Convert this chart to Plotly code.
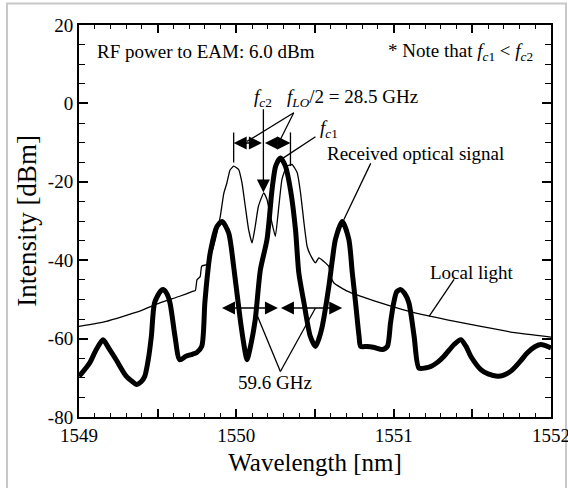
import plotly.graph_objects as go

# ---------------- data ----------------
received_wl = [1549.00, 1549.036, 1549.068, 1549.11, 1549.153, 1549.19, 1549.236, 1549.30,
               1549.34, 1549.365, 1549.395, 1549.418, 1549.44, 1549.46, 1549.48, 1549.518,
               1549.535, 1549.555, 1549.578, 1549.61, 1549.64, 1549.68, 1549.72, 1549.747,
               1549.78, 1549.80, 1549.82, 1549.834, 1549.877, 1549.909, 1549.951, 1549.983,
               1550.025, 1550.05, 1550.068, 1550.09, 1550.12, 1550.153, 1550.195, 1550.227,
               1550.25, 1550.28, 1550.312, 1550.344, 1550.376, 1550.397, 1550.43, 1550.47,
               1550.503, 1550.525, 1550.546, 1550.588, 1550.61, 1550.63, 1550.673, 1550.715,
               1550.737, 1550.758, 1550.78, 1550.79, 1550.83, 1550.87, 1550.93, 1550.96,
               1550.98, 1551.00, 1551.02, 1551.045, 1551.07, 1551.097, 1551.13, 1551.16,
               1551.20, 1551.236, 1551.28, 1551.32, 1551.384, 1551.427, 1551.46, 1551.49,
               1551.554, 1551.60, 1551.66, 1551.70, 1551.745, 1551.80, 1551.85, 1551.90,
               1551.936, 1552.00]
received_dbm = [-69.6, -67.9, -66.2, -62.8, -60.3, -62.5, -65.4, -69.6,
                -71.0, -71.7, -71.0, -69.6, -65.4, -59.4, -50.9, -47.9,
                -47.5, -48.3, -50.8, -59.4, -65.4, -64.5, -64.0, -63.6,
                -62.0, -50.8, -42.4, -38.1, -31.4, -30.1, -33.0, -41.6,
                -55.2, -62.0, -65.4, -62.0, -55.2, -42.4, -34.7, -22.0,
                -16.0, -13.9, -16.0, -22.0, -32.2, -43.2, -50.9, -59.4,
                -62.0, -60.0, -56.9, -46.7, -40.0, -34.7, -30.1, -34.7,
                -43.2, -50.9, -59.4, -62.0, -62.0, -62.2, -62.8, -62.0,
                -56.0, -50.9, -48.0, -47.5, -48.5, -50.9, -59.4, -67.5,
                -67.5, -67.1, -66.0, -64.5, -61.5, -60.3, -62.0, -64.5,
                -67.9, -69.0, -69.6, -69.3, -68.3, -66.0, -63.6, -62.0,
                -61.5, -62.4]

local_wl = [1549.00, 1549.174, 1549.386, 1549.514, 1549.64, 1549.726, 1549.74, 1549.75,
            1549.77, 1549.78, 1549.813, 1549.835, 1549.855, 1549.898, 1549.92, 1549.94,
            1549.96, 1549.983, 1550.015, 1550.036, 1550.057, 1550.078, 1550.10, 1550.12,
            1550.14, 1550.174, 1550.195, 1550.217, 1550.248, 1550.27, 1550.29, 1550.32,
            1550.355, 1550.387, 1550.408, 1550.43, 1550.45, 1550.47, 1550.503, 1550.524,
            1550.556, 1550.588, 1550.60, 1550.62, 1550.705, 1550.917, 1551.13, 1551.34,
            1551.554, 1551.77, 1552.00]
local_dbm = [-56.9, -55.6, -53.0, -50.9, -49.2, -47.9, -47.7, -45.0,
             -44.2, -41.5, -41.1, -39.0, -36.5, -28.8, -23.0, -20.3,
             -17.0, -16.0, -16.9, -20.3, -26.3, -32.2, -35.6, -31.4,
             -26.3, -22.8, -24.5, -28.8, -33.9, -26.3, -19.4, -16.0,
             -15.6, -17.7, -22.8, -30.5, -36.5, -38.6, -40.7, -39.4,
             -40.3, -41.6, -44.1, -45.8, -47.9, -50.9, -53.4, -55.2,
             -56.9, -58.5, -59.6]

x_tickvals = [1549, 1549.5, 1550, 1550.5, 1551, 1551.5, 1552]
x_ticktext = ["1549", "", "1550", "", "1551", "", "1552"]
y_tickvals = [-80, -60, -40, -20, 0, 20]
y_ticktext = ["-80", "-60", "-40", "-20", "0", "20"]

FONT = "Liberation Serif"

fig = go.Figure()
fig.add_trace(go.Scatter(x=local_wl, y=local_dbm, mode="lines",
                         line=dict(color="black", width=1.3, shape="spline", smoothing=0.4),
                         name="Local light", showlegend=False))
fig.add_trace(go.Scatter(x=received_wl, y=received_dbm, mode="lines",
                         line=dict(color="black", width=5, shape="spline", smoothing=0.7),
                         name="Received optical signal", showlegend=False))

ann = []
def label(x, y, text, xanchor="center", size=19):
    ann.append(dict(x=x, y=y, xref="x", yref="y", text=text, showarrow=False,
                    xanchor=xanchor, yanchor="middle",
                    font=dict(family=FONT, size=size, color="black")))

def arrow(x, y, ax, ay, side="end"):
    ann.append(dict(x=x, y=y, ax=ax, ay=ay, xref="x", yref="y", axref="x", ayref="y",
                    text="", showarrow=True, arrowhead=2, arrowside=side,
                    arrowsize=2.0, arrowwidth=1.3, arrowcolor="black",
                    standoff=0, startstandoff=0))

label(1549.102, 13.2, "RF power to EAM: 6.0 dBm", xanchor="left")
label(1551.9, 13.2, "* Note that <i>f</i><sub><i>c</i>1</sub> &lt; <i>f</i><sub><i>c</i>2</sub>",
      xanchor="right")
label(1550.172, 1.5, "<i>f</i><sub><i>c</i>2</sub>")
label(1550.31, 1.5, "<i>f</i><sub><i>LO</i></sub>/2 = 28.5 GHz", xanchor="left")
label(1550.52, -6.6, "<i>f</i><sub><i>c</i>1</sub>", xanchor="left")
label(1551.14, -12.8, "Received optical signal")
label(1551.5, -43.2, "Local light")
label(1550.245, -71.2, "59.6 GHz")

# top arrows (28.5 GHz spacing)
arrow(1549.983, -10.1, 1550.172, -10.1, side="end+start")
arrow(1550.344, -10.1, 1550.172, -10.1, side="end+start")
arrow(1550.172, -22.75, 1550.172, -1.1)
# bottom arrows (59.6 GHz spacing)
arrow(1549.909, -52.2, 1550.274, -52.2, side="end+start")
arrow(1550.673, -52.2, 1550.274, -52.2, side="end+start")

shapes = []
def seg(x0, y0, x1, y1):
    shapes.append(dict(type="line", xref="x", yref="y", x0=x0, y0=y0, x1=x1, y1=y1,
                       line=dict(color="black", width=1.3)))

seg(1549.983, -7.4, 1549.983, -15.1)
seg(1550.344, -7.4, 1550.344, -16.0)
seg(1550.365, -2.4, 1550.068, -9.7)
seg(1550.365, -2.4, 1550.28, -9.2)
seg(1550.503, -8.5, 1550.28, -14.4)
seg(1550.854, -15.3, 1550.683, -29.7)
seg(1551.384, -44.9, 1551.225, -54.3)
seg(1550.28, -68.4, 1550.115, -52.4)
seg(1550.28, -68.4, 1550.503, -52.2)

# light gray outer frame
shapes.append(dict(type="rect", xref="paper", yref="paper", x0=-0.1525, x1=1.0318,
                   y0=-0.25, y1=1.0546, line=dict(color="#c8c8c8", width=2), layer="below"))

fig.update_layout(
    width=568, height=488,
    margin=dict(l=79, r=17, t=25, b=71, autoexpand=False),
    paper_bgcolor="white", plot_bgcolor="white",
    font=dict(family=FONT, size=19, color="black"),
    annotations=ann, shapes=shapes,
    showlegend=False,
)
fig.update_xaxes(range=[1549, 1552], tickvals=x_tickvals, ticktext=x_ticktext,
                 ticklabeloverflow="allow", automargin=False,
                 ticks="inside", ticklen=8, tickwidth=1.5, tickcolor="black",
                 minor=dict(dtick=0.1, ticks="inside", ticklen=4, tickwidth=1.2, tickcolor="black"),
                 showline=True, linewidth=2, linecolor="black", mirror="allticks",
                 showgrid=False, zeroline=False,
                 tickfont=dict(family=FONT, size=19, color="black"),
                 title=dict(text="Wavelength [nm]", font=dict(family=FONT, size=25, color="black"),
                            standoff=9))
fig.update_yaxes(range=[-80, 20], tickvals=y_tickvals, ticktext=y_ticktext,
                 automargin=False,
                 ticks="inside", ticklen=9, tickwidth=1.5, tickcolor="black",
                 minor=dict(dtick=5, ticks="inside", ticklen=6, tickwidth=1.2, tickcolor="black"),
                 showline=True, linewidth=2, linecolor="black", mirror="allticks",
                 showgrid=False, zeroline=False,
                 tickfont=dict(family=FONT, size=19, color="black"),
                 title=dict(text="Intensity [dBm]", font=dict(family=FONT, size=27, color="black"),
                            standoff=3))

fig.write_html("out.html")
